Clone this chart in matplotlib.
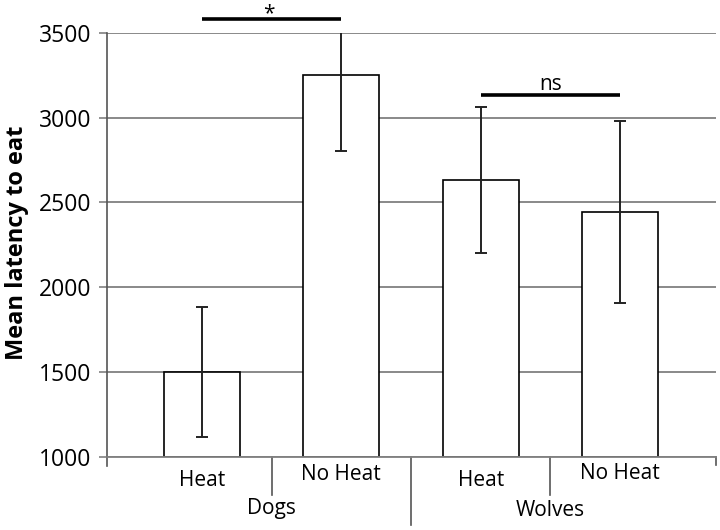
import matplotlib
matplotlib.use("Agg")
import matplotlib.pyplot as plt
from matplotlib.transforms import blended_transform_factory
from matplotlib.lines import Line2D

plt.rcParams['font.family'] = ['Open Sans', 'DejaVu Sans']

groups = ["Dogs", "Wolves"]
conditions = ["Heat", "No Heat", "Heat", "No Heat"]
means = [1500, 3252, 2634, 2444]
errors = [385, 448, 430, 535]
yticks = [1000, 1500, 2000, 2500, 3000, 3500]

fig = plt.figure(figsize=(7.2, 5.3), dpi=100)
ax = fig.add_axes([0.1486, 0.1383, 0.994 - 0.1486, 0.9377 - 0.1383])

x = list(range(len(means)))
ax.set_ylim(1000, 3500)
ax.set_xlim(-0.681, 3.686)
for t in yticks:
    ax.axhline(t, color='#808080', lw=1.3, zorder=1)
ax.bar(x, [m - 1000 for m in means], bottom=1000, width=0.545,
       color='white', edgecolor='black', linewidth=1.2, zorder=2)
ax.errorbar(x, means, yerr=errors, fmt='none', ecolor='#222222',
            elinewidth=1.4, capsize=4.5, capthick=1.4, zorder=3)

ax.set_yticks(yticks)
ax.set_yticklabels([str(t) for t in yticks], fontsize=16.5)
ax.set_xticks([])
ax.tick_params(axis='y', length=6, width=1.2, color='#808080', pad=5.5)
for s in ['top', 'right']:
    ax.spines[s].set_visible(False)
ax.spines['left'].set_color('#555555')
ax.spines['left'].set_linewidth(1.2)
ax.spines['bottom'].set_color('#808080')
ax.spines['bottom'].set_linewidth(1.3)

ax.set_ylabel("Mean latency to eat", fontsize=17, fontweight='bold')
ax.yaxis.set_label_coords(-0.128, 0.505)

tr = blended_transform_factory(ax.transData, fig.transFigure)
label_y = [0.0943, 0.1038, 0.0943, 0.1075]
for xi, lab, yy in zip(x, conditions, label_y):
    ax.text(xi, yy, lab, transform=tr, ha='center', va='center', fontsize=15)
group_x = [0.5, 2.5]
group_y = [0.0415, 0.0377]
for gx, g, gy in zip(group_x, groups, group_y):
    ax.text(gx, gy, g, transform=tr, ha='center', va='center', fontsize=15)

y0 = 1 - 456.7 / 530
sep = [(-0.681, 1 - 466 / 530), (0.5, 1 - 495 / 530), (1.5, 1 - 525 / 530),
       (2.5, 1 - 495 / 530), (3.686, 1 - 465 / 530)]
for sx, sy in sep:
    ax.add_line(Line2D([sx, sx], [y0, sy], transform=tr, color='#555555',
                       lw=1.2, clip_on=False))

ax.plot([0, 1], [3583, 3583], color='black', lw=2.6, clip_on=False,
        solid_capstyle='butt')
ax.text(0.48, 3615, "*", ha='center', va='center', fontsize=15)
ax.plot([2, 3], [3136, 3136], color='black', lw=2.6, clip_on=False,
        solid_capstyle='butt')
ax.text(2.5, 3195, "ns", ha='center', va='center', fontsize=15)

fig.savefig("out.png", dpi=100)
